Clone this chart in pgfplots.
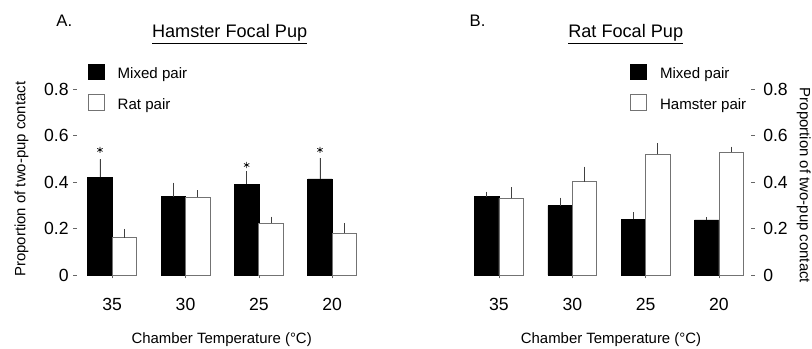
\documentclass[border=0pt]{standalone}
\usepackage{fontspec}
\setmainfont{Liberation Sans}
\usepackage{pgfplots}
\pgfplotsset{compat=1.18}
\pgfplotsset{
  myaxis/.style={
    x=55pt, y=174.075pt,
    ymin=0, ymax=0.8,
    clip=false,
    ytick={0,0.2,0.4,0.6,0.8},
    yticklabels={0,0.2,0.4,0.6,0.8},
    xtick={0,1,2,3},
    xticklabels={35,30,25,20},
    axis line style={draw=none},
    tick style={black!60, line width=0.5pt},
    major tick length=2.5pt,
    tick align=outside,
    ticklabel style={font=\fontsize{13.2}{15}\selectfont},
    xticklabel style={yshift=-11.5pt},
    label style={font=\fontsize{11.2}{13}\selectfont},
    title style={font=\fontsize{13.6}{16}\selectfont, anchor=base, yshift=-6pt},
    legend image code/.code={\draw[##1] (0pt,-4pt) rectangle (11.7pt,7.7pt);},
    legend style={draw=none, fill=none, inner sep=0pt, anchor=north west, row sep=10.3pt, column sep=10pt, font=\fontsize{11.3}{13}\selectfont, nodes={inner sep=0pt}},
    legend cell align=left,
    error bars/y dir=plus, error bars/y explicit,
    error bars/error mark=none,
    error bars/error bar style={black!75, line width=0.6pt},
  },
  blk/.style={ybar, bar width=0.3333, bar shift=0pt, fill=black, draw=black, line width=0.5pt},
  wht/.style={ybar, bar width=0.3333, bar shift=0pt, fill=white, draw=black!55, line width=0.6pt},
}
\begin{document}
\begin{tikzpicture}
\path[use as bounding box] (0,0) rectangle (609pt,261.75pt);
% Panel A
\begin{axis}[myaxis,
  at={(57.525pt,55.5pt)}, anchor=south west,
  xmin=-0.484, xmax=3.48,
  axis x line*=bottom, axis y line*=left,
  xlabel={Chamber Temperature (°C)},
  ylabel={Proportion of two-pup contact},
  xlabel style={at={(axis description cs:0.4986,-0.349)}, anchor=center},
  ylabel style={at={(axis description cs:-0.1900,0.516)}, anchor=center},
  title={\underline{Hamster Focal Pup}},
  title style={at={(axis description cs:0.526,1.278)}},
  legend style={at={(axis description cs:0.0377,1.14)}},
]
\addplot[blk, error bars/.cd, y dir=plus, y explicit] coordinates {
  (-0.1667,0.421) +- (0,0.077)
  (0.8333,0.337) +- (0,0.061)
  (1.8333,0.392) +- (0,0.056)
  (2.8333,0.414) +- (0,0.091)
};
\addplot[wht, error bars/.cd, y dir=plus, y explicit] coordinates {
  (0.1667,0.161) +- (0,0.038)
  (1.1667,0.335) +- (0,0.031)
  (2.1667,0.223) +- (0,0.028)
  (3.1667,0.180) +- (0,0.045)
};
\addplot[only marks, mark=asterisk, mark size=2.3pt, black, line width=0.5pt, forget plot] coordinates {
  (-0.1667,0.539) (1.8333,0.474) (2.8333,0.539)
};
\legend{Mixed pair, Rat pair}
\node[anchor=base west, font=\fontsize{12.5}{14}\selectfont] at (axis description cs:-0.0858,1.336) {A.};
\end{axis}
% Panel B
\begin{axis}[myaxis,
  at={(346.725pt,55.5pt)}, anchor=south west,
  xmin=-0.5, xmax=3.44,
  axis x line*=bottom, axis y line*=right,
  yticklabel style={xshift=3pt},
  xlabel={Chamber Temperature (°C)},
  ylabel={Proportion of two-pup contact},
  xlabel style={at={(axis description cs:0.5147,-0.349)}, anchor=center},
  ylabel style={at={(axis description cs:1.182,0.482)}, anchor=center, rotate=180},
  title={\underline{Rat Focal Pup}},
  title style={at={(axis description cs:0.5656,1.278)}},
  legend style={at={(axis description cs:0.5805,1.14)}},
]
\addplot[blk, error bars/.cd, y dir=plus, y explicit] coordinates {
  (-0.1667,0.337) +- (0,0.022)
  (0.8333,0.299) +- (0,0.034)
  (1.8333,0.240) +- (0,0.030)
  (2.8333,0.237) +- (0,0.011)
};
\addplot[wht, error bars/.cd, y dir=plus, y explicit] coordinates {
  (0.1667,0.330) +- (0,0.048)
  (1.1667,0.402) +- (0,0.065)
  (2.1667,0.520) +- (0,0.047)
  (3.1667,0.529) +- (0,0.024)
};
\legend{Mixed pair, Hamster pair}
\node[anchor=base west, font=\fontsize{12.5}{14}\selectfont] at (axis description cs:0.0093,1.336) {B.};
\end{axis}
\end{tikzpicture}
\end{document}
